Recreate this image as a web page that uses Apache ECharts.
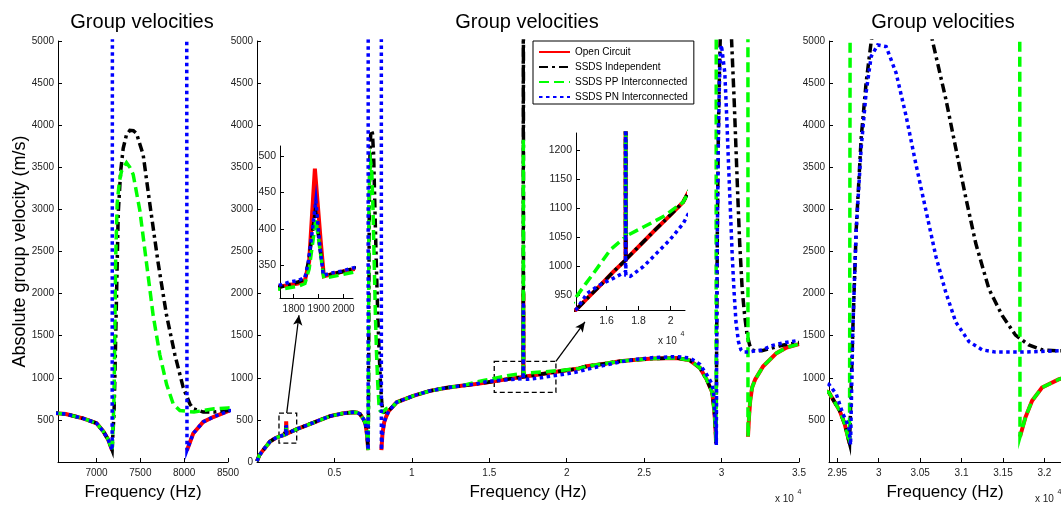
<!DOCTYPE html>
<html><head><meta charset="utf-8">
<script src="https://cdn.jsdelivr.net/npm/echarts/dist/echarts.min.js"></script>
<style>html,body{margin:0;padding:0;background:#fff}#c{width:1061px;height:506px}</style>
</head><body><div id="c"></div>
<script>
// ---------- data (frequency Hz, |group velocity| m/s) ----------
const seriesNames = ['Open Circuit','SSDS Independent','SSDS PP Interconnected','SSDS PN Interconnected'];

const lowBand = [[0,10],[150,80],[409,144],[839,242],[1200,285],[1420,302],[1700,318]];
const spikeOpen  = [[1747,321],[1817,325],[1845,329],[1862,355],[1885,483],[1908,385],[1921,335],[1993,341],[2034,344]];
const spikeIndep = [[1747,320],[1817,327],[1845,331],[1862,360],[1887,426],[1906,372],[1921,335],[1993,341],[2034,345]];
const spikePP    = [[1747,317],[1817,321],[1845,325],[1862,345],[1889,413],[1906,370],[1921,332],[1993,337],[2034,340]];
const spikePN    = [[1747,323],[1784,327],[1817,329],[1845,333],[1858,353],[1872,390],[1889,439],[1905,376],[1919,336],[1946,339],[1993,342],[2034,346]];

const riseBand = [[2563,390],[3208,436],[3854,483],[4713,545],[5571,578],[6200,590],[6450,588],[6650,570],[6855,515],[7000,460],[7076,365],[7133,265],[7178,140]];

const gapOpen  = [[7600,'-'],[8032,140],[8103,339],[8217,476],[8331,534],[8500,604]];
const gapIndep = [[7185,300],[7200,600],[7209,1004],[7228,1974],[7247,2947],[7275,3450],[7304,3726],[7340,3880],[7380,3940],[7420,3935],[7456,3902],[7532,3648],[7608,3064],[7703,2363],[7799,1741],[7894,1273],[7989,884],[8065,689],[8103,632],[8217,593],[8340,593],[8500,612]];
const gapPP    = [[7185,300],[7200,800],[7209,1584],[7217,2363],[7235,3064],[7260,3330],[7285,3454],[7342,3555],[7380,3500],[7418,3415],[7494,2987],[7570,2363],[7646,1741],[7722,1273],[7799,923],[7875,689],[7951,611],[8112,593],[8340,632],[8500,642]];
const gapPN    = [[7183,9000],[8027,9000],[8032,140],[8103,339],[8217,476],[8331,534],[8500,604]];

const midBand = [[8800,665],[9018,709],[10090,786],[11168,845],[12247,882],[13318,908]];

const zoomOpen  = [[14124,926],[14800,945],[15600,967],[16400,990],[17190,1011],[17200,2000],[17210,1012],[18000,1034],[19000,1062],[20000,1089],[20786,1111]];
const zoomIndep = [[14124,926],[14800,945],[15600,967],[16400,990],[17190,1011],[17200,9000],[17210,1012],[18000,1034],[19000,1062],[20000,1089],[20786,1111]];
const zoomPP    = [[14124,948],[14700,970],[15214,989],[16248,1029],[17190,1051],[17200,3850],[17210,1052],[18310,1068],[19548,1086],[20786,1111]];
const zoomPN    = [[14124,926],[14805,954],[15628,969],[16452,980],[17190,991],[17200,1900],[17210,985],[17486,983],[18310,1000],[19136,1023],[19962,1046],[20786,1074]];

const upperBand = [[21284,1137],[22356,1165],[23435,1196],[24500,1215],[25585,1228],[27094,1236],[27953,1208],[28599,1119],[29031,982],[29399,826],[29528,611],[29588,456],[29648,222]];
const upperPN   = [[21284,1100],[22356,1145],[23435,1188],[24500,1220],[25585,1240],[27094,1252],[27953,1235],[28599,1160],[29031,1040],[29399,923],[29488,806],[29568,572],[29640,417],[29660,202]];

const tailOpen  = [[29655,'-'],[31705,300],[31772,534],[31851,728],[31971,884],[32171,981],[32686,1137],[33547,1293],[34200,1360],[35000,1400]];
const tailPP    = [[29660,9000],[31700,9000],[31705,300],[31772,534],[31851,728],[31971,884],[32171,981],[32686,1137],[33547,1293],[34200,1360],[35000,1400]];
const tailIndep = [[29662,200],[29688,1585],[29728,2753],[29788,3843],[29848,4506],[29909,4992],[30050,5800],[30300,6400],[30500,5800],[30649,5000],[30810,4311],[30930,3727],[31050,3143],[31171,2597],[31331,2052],[31490,1741],[31651,1507],[31811,1390],[31971,1332],[32171,1320],[32600,1322],[33200,1350],[34000,1390],[35000,1420]];
const tailPN    = [[29688,1585],[29728,2753],[29788,3727],[29848,4389],[29909,4817],[29988,4953],[30089,4934],[30209,4623],[30329,4116],[30450,3532],[30570,2987],[30690,2442],[30810,2013],[30930,1662],[31090,1429],[31250,1332],[31411,1305],[31731,1305],[32171,1320],[32600,1330],[33300,1385],[34000,1415],[35000,1445]];

// annotation boxes and arrows (data coordinates of the middle panel)
const zoomBoxes = [[[1420,581],[2563,225]],[[15320,1196],[19303,826]]];
const zoomArrows = [[[1917,581],[2711,1743]],[[19303,1196],[21175,1664]]];

// tick values
const leftTicks = [7000,7500,8000,8500];
const midTicks = [5000,10000,15000,20000,25000,30000,35000];
const rightTicks = [29500,30000,30500,31000,31500,32000];
const mainYTicks = [0,500,1000,1500,2000,2500,3000,3500,4000,4500,5000];
const sideYTicks = [500,1000,1500,2000,2500,3000,3500,4000,4500,5000];
const inset1XTicks = [1800,1900,2000];
const inset1YTicks = [350,400,450,500];
const inset2XTicks = [16000,18000,20000];
const inset2YTicks = [950,1000,1050,1100,1150,1200];

// ---------- assemble ----------
const seriesData = {
  'Open Circuit': [].concat(lowBand, spikeOpen, riseBand, gapOpen, midBand, zoomOpen, upperBand, tailOpen),
  'SSDS Independent': [].concat(lowBand, spikeIndep, riseBand, gapIndep, midBand, zoomIndep, upperBand, tailIndep),
  'SSDS PP Interconnected': [].concat(lowBand, spikePP, riseBand, gapPP, midBand, zoomPP, upperBand, tailPP),
  'SSDS PN Interconnected': [].concat(lowBand, spikePN, riseBand, gapPN, midBand, zoomPN, upperPN, tailPN)
};
const styles = {
  'Open Circuit': {color:'#ff0000', width:4, type:'solid'},
  'SSDS Independent': {color:'#000000', width:3.5, type:[9,4,3,4]},
  'SSDS PP Interconnected': {color:'#00ff00', width:3.5, type:[10,5]},
  'SSDS PN Interconnected': {color:'#0000ff', width:3.5, type:[3.5,3.5]}
};
const FONT = '"Liberation Sans", Arial, sans-serif';
const TXT = '#222';

const grids = [
  {left:58, top:41, width:170, height:428},
  {left:257, top:41, width:542, height:428},
  {left:829, top:41, width:232, height:428},
  {left:280, top:146, width:73, height:152},
  {left:576, top:133, width:109, height:177}
];

const plain = v => String(v);
const e4 = v => String(v/1e4);

function axisBase(fs){
  return {
    type:'value', splitLine:{show:false},
    axisLine:{show:true, onZero:false, lineStyle:{color:'#000', width:1}},
    axisTick:{show:true, inside:true, length:4, lineStyle:{color:'#000'}},
    axisLabel:{fontSize:fs, color:TXT, fontFamily:FONT, hideOverlap:false, showMinLabel:true, showMaxLabel:true}
  };
}
function xAxis(g, min, max, ticks, fmt, fs, name){
  const a = axisBase(fs);
  a.gridIndex = g; a.min = min; a.max = max;
  a.axisTick.customValues = ticks;
  a.axisLabel.customValues = ticks;
  a.axisLabel.margin = 6;
  a.axisLabel.formatter = fmt;
  if (name){
    a.name = name; a.nameLocation = 'middle'; a.nameGap = 22; a.nameMoveOverlap = false;
    a.nameTextStyle = {fontSize:17, color:'#000', fontFamily:FONT};
  }
  return a;
}
function yAxis(g, min, max, ticks, fs){
  const a = axisBase(fs);
  a.gridIndex = g; a.min = min; a.max = max;
  a.axisTick.customValues = ticks;
  a.axisLabel.customValues = ticks;
  a.axisLabel.margin = 4;
  a.axisLabel.formatter = plain;
  return a;
}

const xAxes = [
  xAxis(0, 6560, 8500, leftTicks, plain, 10, 'Frequency (Hz)'),
  xAxis(1, 0, 35000, midTicks, e4, 10, 'Frequency (Hz)'),
  xAxis(2, 29400, 32200, rightTicks, e4, 10, 'Frequency (Hz)'),
  xAxis(3, 1745, 2038, inset1XTicks, plain, 10, null),
  xAxis(4, 14100, 20900, inset2XTicks, e4, 10.5, null)
];
const yAxes = [
  yAxis(0, 0, 5000, sideYTicks, 10),
  yAxis(1, 0, 5000, mainYTicks, 10),
  yAxis(2, 0, 5000, sideYTicks, 10),
  yAxis(3, 305, 514, inset1YTicks, 10.5),
  yAxis(4, 925, 1230, inset2YTicks, 10.5)
];
yAxes[0].name = 'Absolute group velocity (m/s)';
yAxes[0].nameLocation = 'middle';
yAxes[0].nameGap = 29;
yAxes[0].nameMoveOverlap = false;
yAxes[0].nameTextStyle = {fontSize:18, color:'#000', fontFamily:FONT};

const series = [];
for (let g = 0; g < grids.length; g++){
  seriesNames.forEach(n => {
    const s = {
      type:'line', name:n, data:seriesData[n], xAxisIndex:g, yAxisIndex:g,
      symbol:'none', showSymbol:false, clip:true, connectNulls:false, silent:true,
      color:styles[n].color,
      lineStyle:{color:styles[n].color, width:styles[n].width, type:styles[n].type, cap:'butt', join:'miter'}
    };
    if (g === 1 && n === 'Open Circuit'){
      s.markArea = {
        silent:true,
        itemStyle:{color:'rgba(0,0,0,0)', borderColor:'#000', borderWidth:1.3, borderType:[5,3]},
        label:{show:false},
        data: zoomBoxes.map(b => [{coord:b[0]},{coord:b[1]}])
      };
      s.markLine = {
        silent:true, symbol:['none','arrow'], symbolSize:[7,10],
        lineStyle:{color:'#000', width:1.3, type:'solid'},
        label:{show:false},
        data: zoomArrows.map(a => [{coord:a[0]},{coord:a[1]}])
      };
    }
    series.push(s);
  });
}

function txt(x, y, t, fs, align, fill){
  return {type:'text', x:x, y:y, silent:true, style:{text:t, fontSize:fs, fontFamily:FONT, fill:fill||'#000', align:align||'left', verticalAlign:'middle'}};
}
const graphics = [
  txt(142, 22, 'Group velocities', 20, 'center'),
  txt(527, 22, 'Group velocities', 20, 'center'),
  txt(943, 22, 'Group velocities', 20, 'center'),
  txt(775, 499, 'x 10', 10, 'left', TXT),
  txt(797.5, 492, '4', 7, 'left', TXT),
  txt(1035, 499, 'x 10', 10, 'left', TXT),
  txt(1057.5, 492, '4', 7, 'left', TXT),
  txt(658, 341, 'x 10', 10, 'left', TXT),
  txt(680.5, 334, '4', 7, 'left', TXT)
];

const chart = echarts.init(document.getElementById('c'));
chart.setOption({
  animation:false,
  backgroundColor:'#fff',
  grid:grids,
  xAxis:xAxes,
  yAxis:yAxes,
  legend:{
    data:seriesNames, orient:'vertical', left:533, top:41,
    padding:[6,6,2,5], itemWidth:31, itemHeight:12, itemGap:5,
    backgroundColor:'#fff', borderColor:'#000', borderWidth:1, borderRadius:0,
    selectedMode:false,
    itemStyle:{color:'rgba(0,0,0,0)', borderWidth:0, opacity:0},
    textStyle:{fontSize:10, fontFamily:FONT, color:'#000'}
  },
  graphic:graphics,
  series:series
});
</script></body></html>
